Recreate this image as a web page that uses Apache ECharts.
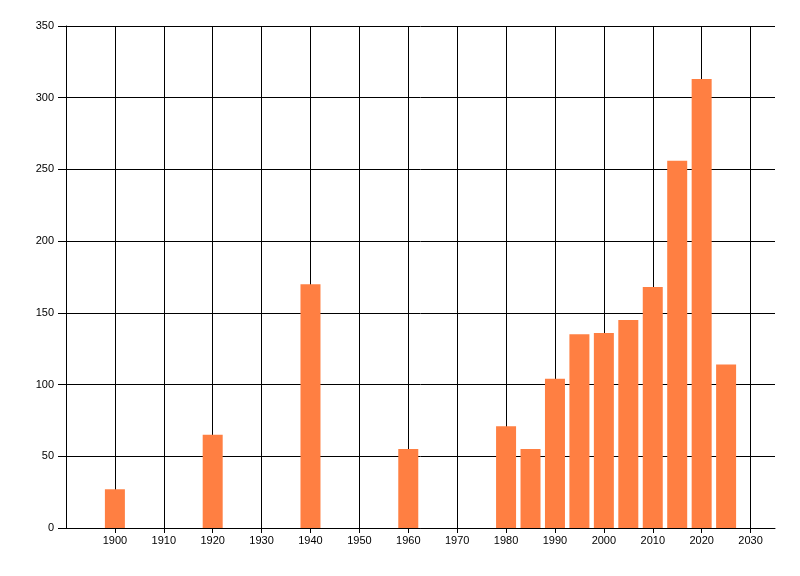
<!DOCTYPE html>
<html>
<head>
<meta charset="utf-8">
<script src="https://cdn.jsdelivr.net/npm/echarts@6/dist/echarts.min.js"></script>
<style>
  html, body { margin: 0; padding: 0; background: #fff; }
  #chart { width: 800px; height: 576px; }
</style>
</head>
<body>
<div id="chart"></div>
<script>
// years on the x axis and their counts
var years = [1900, 1920, 1940, 1960, 1980, 1985, 1990, 1995, 2000, 2005, 2010, 2015, 2020, 2025];
var counts = [27, 65, 170, 55, 71, 55, 104, 135, 136, 145, 168, 256, 313, 114];

var xMin = 1890, xMax = 2035;

function drawChart() {
    var myChart = echarts.init(document.getElementById('chart'));

    var labelStyle = {
        color: '#000',
        fontFamily: 'Liberation Sans, Arial, sans-serif',
        fontSize: 11
    };

    var option = {
        animation: false,
        grid: {
            left: 66,
            right: 25,
            top: 26,
            bottom: 48,
            containLabel: false
        },
        xAxis: {
            type: 'value',
            min: xMin,
            max: xMax,
            interval: 10,
            axisLine: { show: true, lineStyle: { color: '#000', width: 1 } },
            axisTick: { show: true, length: 5, lineStyle: { color: '#000' } },
            axisLabel: Object.assign({
                margin: 7,
                showMinLabel: false,
                showMaxLabel: false,
                formatter: function (v) {
                    return (v === xMin || v === xMax) ? '' : String(v);
                }
            }, labelStyle),
            splitLine: {
                show: true,
                showMinLine: false,
                showMaxLine: false,
                lineStyle: { color: '#000', width: 1 }
            }
        },
        yAxis: {
            type: 'value',
            min: 0,
            max: 350,
            interval: 50,
            axisLine: { show: true, lineStyle: { color: '#000', width: 1 } },
            axisTick: { show: true, length: 8, lineStyle: { color: '#000' } },
            axisLabel: Object.assign({ margin: 12 }, labelStyle),
            splitLine: { show: true, lineStyle: { color: '#000', width: 1 } }
        },
        series: [{
            type: 'bar',
            barWidth: 20,
            itemStyle: { color: '#FF7F42' },
            data: years.map(function (y, i) {
                return [y, counts[i]];
            })
        }]
    };

    myChart.setOption(option);
}

drawChart();
</script>
</body>
</html>
